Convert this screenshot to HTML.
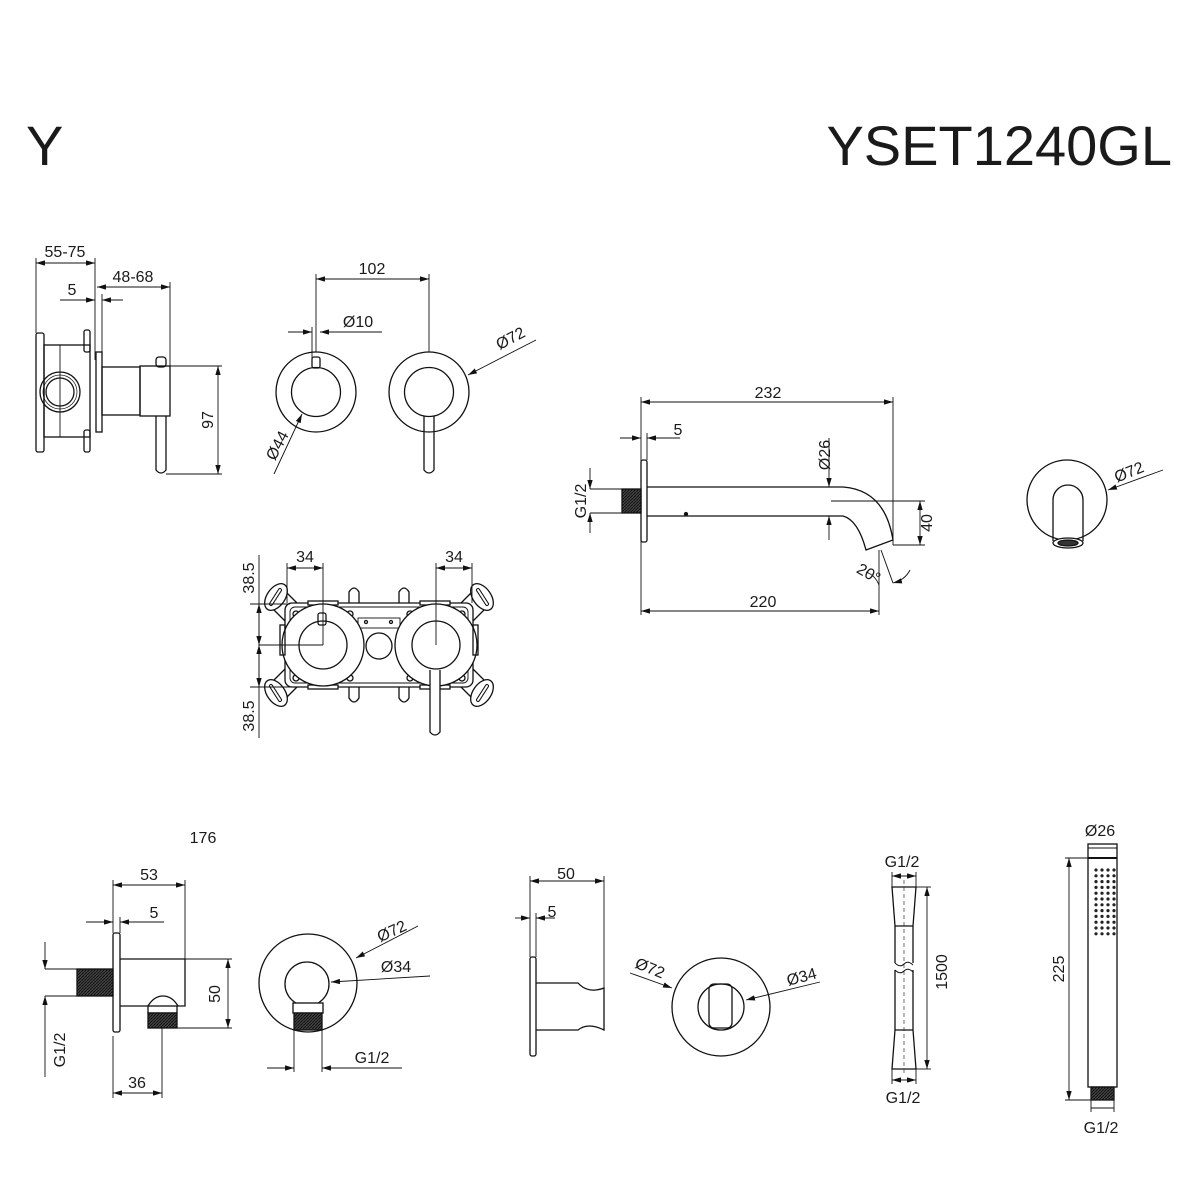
<!DOCTYPE html>
<html><head><meta charset="utf-8"><style>
html,body{margin:0;padding:0;background:#fff;}
svg{display:block}
text{font-family:"Liberation Sans",Arial,sans-serif;fill:#1a1a1a}
</style></head><body>
<svg width="1200" height="1200" viewBox="0 0 1200 1200" xmlns="http://www.w3.org/2000/svg">
<defs>
<marker id="a" viewBox="0 0 10 6" refX="10" refY="3" markerWidth="9" markerHeight="5.4" markerUnits="userSpaceOnUse" orient="auto-start-reverse"><path d="M0,0 L10,3 L0,6z" fill="#111"/></marker>
<pattern id="th" width="3" height="3" patternUnits="userSpaceOnUse"><rect width="3" height="3" fill="#444"/><path d="M0,3 L3,0" stroke="#111" stroke-width="1"/></pattern>
<g id="ear"><path d="M-2,-14 L15,3 M-18,0 L2,20"/><ellipse cx="-9" cy="-6" rx="15" ry="9" transform="rotate(-55 -9 -6)" fill="#fff"/><path d="M-14,1 L-5,-13" stroke-width="4" stroke-linecap="round"/><path d="M-14,1 L-5,-13" stroke-width="2" stroke="#fff" stroke-linecap="round"/></g>
</defs>
<rect width="1200" height="1200" fill="#fff"/>
<text x="26" y="165" font-size="56">Y</text>
<text x="1172" y="165" font-size="56" text-anchor="end">YSET1240GL</text>

<g fill="none" stroke="#111" stroke-width="1.3">
<!-- ===== Section 1 ===== -->
<rect x="36" y="333" width="8" height="119" rx="2"/>
<rect x="44" y="345" width="46" height="92"/>
<line x1="60" y1="345" x2="60" y2="437" stroke-width="0.9"/>
<circle cx="60" cy="392" r="20"/><circle cx="60" cy="392" r="14"/><circle cx="60" cy="392" r="17" stroke-width="0.7"/>
<rect x="84" y="330" width="6" height="22" rx="2"/><rect x="84" y="430" width="6" height="22" rx="2"/>
<rect x="96" y="352" width="6" height="80"/>
<rect x="102" y="367" width="38" height="48"/>
<rect x="140" y="366" width="30" height="50"/>
<rect x="156" y="357" width="10" height="10" rx="3"/>
<path d="M156,416 L156,470 Q161,476 166,470 L166,416"/>
<g stroke-width="0.9">
<line x1="36" y1="263" x2="95" y2="263" marker-start="url(#a)" marker-end="url(#a)"/>
<line x1="36" y1="258" x2="36" y2="333"/><line x1="95" y1="258" x2="95" y2="360"/>
<line x1="97" y1="287" x2="170" y2="287" marker-start="url(#a)" marker-end="url(#a)"/>
<line x1="170" y1="282" x2="170" y2="366"/><line x1="102" y1="294" x2="102" y2="352"/>
<line x1="60" y1="300" x2="95" y2="300" marker-end="url(#a)"/>
<line x1="123" y1="300" x2="102" y2="300" marker-end="url(#a)"/>
<line x1="170" y1="366" x2="222" y2="366"/><line x1="166" y1="474" x2="222" y2="474"/>
<line x1="218" y1="366" x2="218" y2="474" marker-start="url(#a)" marker-end="url(#a)"/>
</g>

<!-- ===== Section 2 ===== -->
<circle cx="316" cy="392" r="40"/><circle cx="316" cy="392" r="24.5"/>
<rect x="312" y="357" width="8" height="11" rx="2"/>
<circle cx="429" cy="392" r="40"/><circle cx="429" cy="392" r="24.5"/>
<path d="M424,416 L424,470 Q429,476 434,470 L434,416"/>
<g stroke-width="0.9">
<line x1="316" y1="279" x2="429" y2="279" marker-start="url(#a)" marker-end="url(#a)"/>
<line x1="316" y1="274" x2="316" y2="352"/><line x1="429" y1="274" x2="429" y2="352"/>
<line x1="288" y1="332" x2="312" y2="332" marker-end="url(#a)"/>
<line x1="382" y1="332" x2="320" y2="332" marker-end="url(#a)"/>
<line x1="312" y1="327" x2="312" y2="360"/>
<line x1="536" y1="340" x2="468" y2="375" marker-end="url(#a)"/>
<line x1="274" y1="474" x2="302" y2="414" marker-end="url(#a)"/>
</g>

<!-- ===== Section 3 ===== -->
<use href="#ear" transform="translate(285,603)"/>
<use href="#ear" transform="translate(473,603) scale(-1,1)"/>
<use href="#ear" transform="translate(285,687) scale(1,-1)"/>
<use href="#ear" transform="translate(473,687) scale(-1,-1)"/>
<path d="M349,605 L349,592 Q354,584 359,592 L359,605" /><path d="M399,605 L399,592 Q404,584 409,592 L409,605"/>
<path d="M349,685 L349,698 Q354,706 359,698 L359,685"/><path d="M399,685 L399,698 Q404,706 409,698 L409,685"/>
<rect x="285" y="603" width="188" height="84" rx="7" fill="#fff"/>
<rect x="290" y="607" width="178" height="76" rx="5" stroke-width="0.9"/>
<rect x="358" y="618" width="42" height="10" stroke-width="0.9"/>
<circle cx="366" cy="622" r="1.5"/><circle cx="391" cy="622" r="1.5"/>
<circle cx="296" cy="614" r="3"/><circle cx="350" cy="614" r="3"/><circle cx="410" cy="614" r="3"/><circle cx="462" cy="614" r="3"/>
<circle cx="296" cy="678" r="3"/><circle cx="350" cy="678" r="3"/><circle cx="410" cy="678" r="3"/><circle cx="462" cy="678" r="3"/>
<rect x="308" y="601" width="30" height="4" fill="#fff"/><rect x="420" y="601" width="30" height="4" fill="#fff"/>
<rect x="308" y="685" width="30" height="4" fill="#fff"/><rect x="420" y="685" width="30" height="4" fill="#fff"/>
<circle cx="323" cy="645" r="41" fill="#fff"/><circle cx="323" cy="645" r="24"/>
<rect x="318" y="613" width="8" height="12" rx="2"/>
<circle cx="436" cy="645" r="41" fill="#fff"/><circle cx="436" cy="645" r="24"/>
<circle cx="379" cy="646" r="13"/>
<rect x="280" y="625" width="5" height="30"/><rect x="473" y="625" width="5" height="30"/>
<path d="M430,670 L430,732 Q435,738 440,732 L440,670" fill="#fff"/>
<g stroke-width="0.9">
<line x1="287" y1="568" x2="323" y2="568" marker-start="url(#a)" marker-end="url(#a)"/>
<line x1="287" y1="563" x2="287" y2="603"/><line x1="323" y1="563" x2="323" y2="645"/>
<line x1="436" y1="568" x2="472" y2="568" marker-start="url(#a)" marker-end="url(#a)"/>
<line x1="436" y1="563" x2="436" y2="645"/><line x1="472" y1="563" x2="472" y2="603"/>
<line x1="259" y1="555" x2="259" y2="738"/>
<line x1="259" y1="625" x2="259" y2="604" marker-end="url(#a)"/>
<line x1="259" y1="625" x2="259" y2="645" marker-end="url(#a)"/>
<line x1="259" y1="665" x2="259" y2="645" marker-end="url(#a)"/>
<line x1="259" y1="665" x2="259" y2="687" marker-end="url(#a)"/>
<line x1="250" y1="604" x2="290" y2="604"/><line x1="259" y1="645" x2="323" y2="645"/><line x1="250" y1="687" x2="290" y2="687"/>
</g>

<!-- ===== Section 4: spout ===== -->
<rect x="641" y="460" width="6" height="82" rx="2"/>
<rect x="622" y="489" width="19" height="24" fill="url(#th)"/>
<path d="M647,487 L843,487 Q885,490 893,540 L866,550 Q858,520 843,516 L647,516"/>
<circle cx="686" cy="514" r="1.5" fill="#111"/>
<g stroke-width="0.9">
<line x1="641" y1="402" x2="893" y2="402" marker-start="url(#a)" marker-end="url(#a)"/>
<line x1="641" y1="397" x2="641" y2="615"/><line x1="893" y1="397" x2="893" y2="545"/>
<line x1="620" y1="438" x2="641" y2="438" marker-end="url(#a)"/>
<line x1="680" y1="438" x2="647" y2="438" marker-end="url(#a)"/>
<line x1="647" y1="433" x2="647" y2="460"/>
<line x1="829" y1="438" x2="829" y2="487" marker-end="url(#a)"/>
<line x1="829" y1="540" x2="829" y2="516" marker-end="url(#a)"/>
<line x1="831" y1="501" x2="925" y2="501"/><line x1="893" y1="545" x2="925" y2="545"/>
<line x1="920" y1="501" x2="920" y2="545" marker-start="url(#a)" marker-end="url(#a)"/>
<line x1="879" y1="550" x2="879" y2="615"/>
<line x1="881" y1="550" x2="893" y2="583"/>
<path d="M879,585 Q875,575 866,572"/>
<path d="M893,583 Q905,580 910,570" marker-start="url(#a)"/>
<line x1="641" y1="611" x2="879" y2="611" marker-start="url(#a)" marker-end="url(#a)"/>
<line x1="590" y1="468" x2="590" y2="489" marker-end="url(#a)"/>
<line x1="590" y1="533" x2="590" y2="513" marker-end="url(#a)"/>
<line x1="590" y1="489" x2="622" y2="489"/><line x1="590" y1="513" x2="622" y2="513"/>
</g>
<circle cx="1067" cy="500" r="40"/>
<path d="M1053,541 L1053,500 A15,15 0 0 1 1083,500 L1083,541"/>
<ellipse cx="1068" cy="543" rx="15" ry="5" fill="#fff"/><ellipse cx="1068" cy="543" rx="10" ry="3" fill="#333"/>
<line x1="1163" y1="470" x2="1108" y2="490" stroke-width="0.9" marker-end="url(#a)"/>

<!-- ===== Section 5 ===== -->
<rect x="113" y="933" width="7" height="99" rx="2"/>
<rect x="77" y="969" width="36" height="27" fill="url(#th)"/>
<path d="M120,959 L185,959 L185,1006 L178,1006 Q172,996 163,996 Q154,996 148,1006 L120,1006"/>
<rect x="148" y="1006" width="29" height="7"/>
<rect x="148" y="1013" width="29" height="15" fill="url(#th)"/>
<g stroke-width="0.9">
<line x1="113" y1="885" x2="185" y2="885" marker-start="url(#a)" marker-end="url(#a)"/>
<line x1="113" y1="880" x2="113" y2="933"/><line x1="185" y1="880" x2="185" y2="959"/>
<line x1="86" y1="922" x2="113" y2="922" marker-end="url(#a)"/>
<line x1="164" y1="922" x2="120" y2="922" marker-end="url(#a)"/>
<line x1="120" y1="917" x2="120" y2="933"/>
<line x1="185" y1="959" x2="232" y2="959"/><line x1="177" y1="1028" x2="232" y2="1028"/>
<line x1="228" y1="959" x2="228" y2="1028" marker-start="url(#a)" marker-end="url(#a)"/>
<line x1="45" y1="942" x2="45" y2="969" marker-end="url(#a)"/>
<line x1="45" y1="1077" x2="45" y2="996" marker-end="url(#a)"/>
<line x1="45" y1="969" x2="77" y2="969"/><line x1="45" y1="996" x2="77" y2="996"/>
<line x1="113" y1="1036" x2="113" y2="1098"/><line x1="162" y1="1028" x2="162" y2="1098"/>
<line x1="113" y1="1093" x2="162" y2="1093" marker-start="url(#a)" marker-end="url(#a)"/>
</g>
<circle cx="308" cy="983" r="49"/>
<circle cx="307" cy="984" r="22"/>
<rect x="293" y="1003" width="30" height="10" fill="#fff"/>
<rect x="294" y="1013" width="28" height="17" fill="url(#th)"/>
<g stroke-width="0.9">
<line x1="294" y1="1030" x2="294" y2="1072"/><line x1="322" y1="1030" x2="322" y2="1072"/>
<line x1="267" y1="1068" x2="294" y2="1068" marker-end="url(#a)"/>
<line x1="402" y1="1068" x2="322" y2="1068" marker-end="url(#a)"/>
<line x1="418" y1="926" x2="356" y2="958" marker-end="url(#a)"/>
<line x1="430" y1="976" x2="331" y2="982" marker-end="url(#a)"/>
</g>

<!-- ===== Section 6 ===== -->
<rect x="530" y="957" width="6" height="99" rx="2"/>
<path d="M536,983 L578,983 Q588,994 604,988 L604,1030 Q588,1022 578,1030 L536,1030"/>
<g stroke-width="0.9">
<line x1="530" y1="881" x2="604" y2="881" marker-start="url(#a)" marker-end="url(#a)"/>
<line x1="530" y1="876" x2="530" y2="957"/><line x1="604" y1="876" x2="604" y2="988"/>
<line x1="515" y1="918" x2="530" y2="918" marker-end="url(#a)"/>
<line x1="555" y1="918" x2="536" y2="918" marker-end="url(#a)"/>
<line x1="536" y1="913" x2="536" y2="957"/>
</g>
<circle cx="721" cy="1007" r="49"/>
<circle cx="721" cy="1007" r="23"/>
<rect x="709" y="984" width="23" height="44" rx="5"/>
<g stroke-width="0.9">
<line x1="630" y1="973" x2="672" y2="988" marker-end="url(#a)"/>
<line x1="820" y1="982" x2="746" y2="1000" marker-end="url(#a)"/>
</g>

<!-- ===== Section 7: hose ===== -->
<path d="M892,887 L916,887 L913,926 L895,926 Z"/>
<path d="M895,926 L895,963 M913,926 L913,963 M895,970 L895,1030 M913,970 L913,1030"/>
<path d="M895,963 Q900,968 904,964 Q908,960 913,965 M895,970 Q900,975 904,971 Q908,967 913,972" stroke-width="0.9"/>
<path d="M895,1030 L913,1030 L916,1069 L892,1069 Z"/>
<line x1="904" y1="880" x2="904" y2="1075" stroke-width="0.6" stroke-dasharray="4,3"/>
<g stroke-width="0.9">
<line x1="892" y1="876" x2="916" y2="876" marker-start="url(#a)" marker-end="url(#a)"/>
<line x1="892" y1="872" x2="892" y2="887"/><line x1="916" y1="872" x2="916" y2="887"/>
<line x1="916" y1="887" x2="931" y2="887"/><line x1="916" y1="1069" x2="931" y2="1069"/>
<line x1="927" y1="887" x2="927" y2="1069" marker-start="url(#a)" marker-end="url(#a)"/>
<line x1="892" y1="1069" x2="892" y2="1084"/><line x1="916" y1="1069" x2="916" y2="1084"/>
<line x1="892" y1="1080" x2="916" y2="1080" marker-start="url(#a)" marker-end="url(#a)"/>
</g>

<!-- ===== Section 8 ===== -->
<rect x="1088" y="844" width="29" height="243"/>
<line x1="1088" y1="858" x2="1117" y2="858" stroke-width="2"/>
<rect x="1091" y="1087" width="23" height="13" fill="url(#th)"/>
<g stroke-width="0.9">
<line x1="1088" y1="848" x2="1117" y2="848" />
<line x1="1069" y1="858" x2="1069" y2="1100" marker-start="url(#a)" marker-end="url(#a)"/>
<line x1="1065" y1="858" x2="1088" y2="858"/><line x1="1065" y1="1100" x2="1091" y2="1100"/>
<line x1="1091" y1="1100" x2="1091" y2="1112"/><line x1="1114" y1="1100" x2="1114" y2="1112"/>
<line x1="1091" y1="1108" x2="1114" y2="1108"/>
</g>
</g>
<g fill="#222">
<g id="row"><circle cx="1096" cy="870" r="1.6"/><circle cx="1102" cy="870" r="1.6"/><circle cx="1108" cy="870" r="1.6"/><circle cx="1114" cy="870" r="1.6"/></g>
<use href="#row" y="5.8"/><use href="#row" y="11.6"/><use href="#row" y="17.4"/><use href="#row" y="23.2"/><use href="#row" y="29"/><use href="#row" y="34.8"/><use href="#row" y="40.6"/><use href="#row" y="46.4"/><use href="#row" y="52.2"/><use href="#row" y="58"/><use href="#row" y="63.8"/>
</g>

<!-- ===== Labels ===== -->
<g font-size="16" text-anchor="middle">
<text x="65" y="257">55-75</text>
<text x="133" y="282">48-68</text>
<text x="72" y="295">5</text>
<text transform="translate(213,420) rotate(-90)">97</text>
<text x="372" y="274">102</text>
<text x="358" y="327">Ø10</text>
<text transform="translate(513,343) rotate(-28)">Ø72</text>
<text transform="translate(282,448) rotate(-62)">Ø44</text>
<text x="305" y="562">34</text>
<text x="454" y="562">34</text>
<text transform="translate(254,578) rotate(-90)">38.5</text>
<text transform="translate(254,716) rotate(-90)">38.5</text>
<text x="768" y="398">232</text>
<text x="678" y="435">5</text>
<text transform="translate(830,455) rotate(-90)">Ø26</text>
<text transform="translate(932,523) rotate(-90)">40</text>
<text transform="translate(866,578) rotate(30)">20°</text>
<text x="763" y="607">220</text>
<text transform="translate(586,501) rotate(-90)">G1/2</text>
<text transform="translate(1131,477) rotate(-22)">Ø72</text>
<text x="203" y="843">176</text>
<text x="149" y="880">53</text>
<text x="154" y="918">5</text>
<text transform="translate(220,994) rotate(-90)">50</text>
<text transform="translate(65,1050) rotate(-90)">G1/2</text>
<text x="137" y="1088">36</text>
<text transform="translate(394,936) rotate(-25)">Ø72</text>
<text x="396" y="972">Ø34</text>
<text x="372" y="1063">G1/2</text>
<text x="566" y="879">50</text>
<text x="552" y="917">5</text>
<text transform="translate(648,973) rotate(22)">Ø72</text>
<text transform="translate(803,982) rotate(-15)">Ø34</text>
<text x="902" y="867">G1/2</text>
<text transform="translate(947,972) rotate(-90)">1500</text>
<text x="903" y="1103">G1/2</text>
<text x="1100" y="836">Ø26</text>
<text transform="translate(1064,969) rotate(-90)">225</text>
<text x="1101" y="1133">G1/2</text>
</g>
</svg>
</body></html>
